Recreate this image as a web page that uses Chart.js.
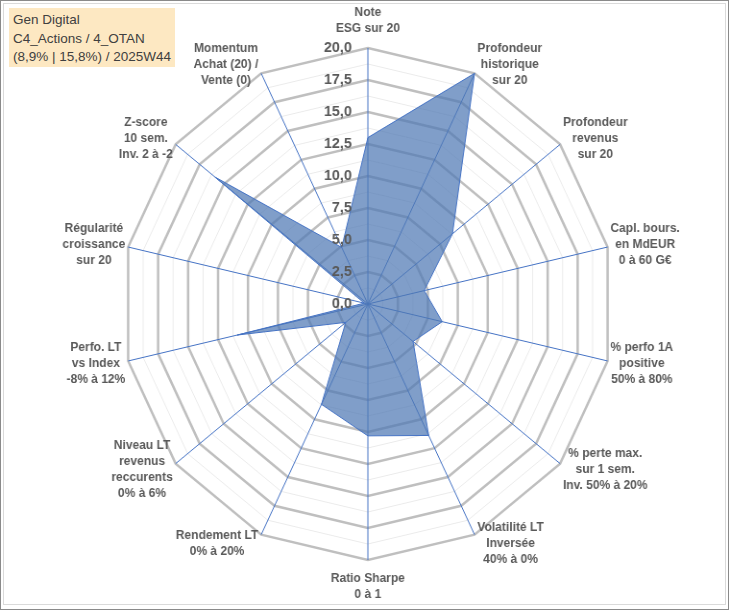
<!DOCTYPE html>
<html>
<head>
<meta charset="utf-8">
<script src="https://cdn.jsdelivr.net/npm/chart.js@4"></script>
<style>
html,body{margin:0;padding:0;background:#fff;}
#wrap{position:relative;width:729px;height:610px;overflow:hidden;background:#fff;}
#c{position:absolute;left:0;top:0;width:729px;height:610px;}
#frame{position:absolute;left:0;top:0;width:727px;height:608px;border:1px solid #8a8a8a;pointer-events:none;}
#inner{position:absolute;left:3px;top:3px;width:721px;height:600px;border:1px solid #dadada;pointer-events:none;}
#title{position:absolute;left:9px;top:8px;width:166px;height:59px;background:#fde8c2;font-family:"Liberation Sans",Arial,sans-serif;font-size:13.5px;color:#404040;line-height:18.5px;padding:3px 0 0 4px;box-sizing:border-box;white-space:nowrap;}
</style>
</head>
<body>
<div id="wrap">
  <canvas id="c" width="759" height="610" style="width:729px;height:610px;"></canvas>
  <div id="frame"></div>
  <div id="inner"></div>
  <div id="title">Gen Digital<br>C4_Actions / 4_OTAN<br>(8,9% | 15,8%) / 2025W44</div>
</div>
<script>
// ---- data ----
const categories = [
  ["Note", "ESG sur 20"],
  ["Profondeur", "historique", "sur 20"],
  ["Profondeur", "revenus", "sur 20"],
  ["Capl. bours.", "en MdEUR", "0 à 60 G€"],
  ["% perfo 1A", "positive", "50% à 80%"],
  ["% perte max.", "sur 1 sem.", "Inv. 50% à 20%"],
  ["Volatilité LT", "Inversée", "40% à 0%"],
  ["Ratio Sharpe", "0 à 1"],
  ["Rendement LT", "0% à 20%"],
  ["Niveau LT", "revenus", "reccurents", "0% à 6%"],
  ["Perfo. LT", "vs Index", "-8% à 12%"],
  ["Régularité", "croissance", "sur 20"],
  ["Z-score", "10 sem.", "Inv. 2 à -2"],
  ["Momentum", "Achat (20) /", "Vente (0)"]
];
const values = [13.0, 20.0, 8.8, 4.7, 6.2, 4.7, 11.4, 10.3, 8.7, 2.3, 10.9, 0.3, 15.9, 4.9];
const tickMin = 0, tickMax = 20, tickStep = 1.25;
const tickLabelEvery = 2;

// ---- helpers ----
const TICK_FONT = {family: '"Liberation Sans", Arial, sans-serif', size: 15, weight: 'bold'};
const meas = document.createElement('canvas').getContext('2d');
meas.font = 'bold 15px "Liberation Sans", Arial, sans-serif';
const spaceW = meas.measureText(' ').width;

function tickLabel(v) {
  const k = Math.round(v / tickStep);
  if (k % tickLabelEvery !== 0) return '';
  const t = (Math.abs(k) * tickStep).toFixed(1).replace('.', ',');
  const w = meas.measureText(t).width;
  return t + ' '.repeat(Math.max(0, Math.round((w + 33) / spaceW)));
}

const axisLabelPlugin = {
  id: 'axisLabels',
  afterDraw(chart) {
    const s = chart.scales.r;
    const c = chart.ctx;
    const R = s.drawingArea;
    const n = categories.length;
    const LH = 16;
    c.save();
    c.font = 'bold 12.5px "Liberation Sans", Arial, sans-serif';
    c.fillStyle = '#595959';
    c.textBaseline = 'middle';
    c.textAlign = 'center';
    categories.forEach((lines, i) => {
      const p = s.getPointPosition(i, R);
      const ang = 2 * Math.PI * i / n;
      const sn = Math.sin(ang), cs = Math.cos(ang);
      const bw = Math.max(...lines.map(t => c.measureText(t).width));
      const bh = lines.length * LH;
      let cx, cy;
      if (Math.abs(sn) < 1e-6) {
        cx = p.x;
        cy = cs > 0 ? p.y - 11 - bh / 2 : p.y + 11 + bh / 2;
      } else {
        cx = sn > 0 ? p.x + 3 + bw / 2 : p.x - 3 - bw / 2;
        cy = s.yCenter - (R + 10) * cs;
      }
      lines.forEach((t, k) => c.fillText(t, cx, cy - bh / 2 + LH * (k + 0.5)));
    });
    c.restore();
  }
};

new Chart(document.getElementById('c'), {
  type: 'radar',
  data: {
    labels: categories,
    datasets: [{
      data: values,
      backgroundColor: 'rgba(79,120,180,0.72)',
      borderColor: '#4472C4',
      borderWidth: 1,
      pointRadius: 0,
      pointHoverRadius: 0,
      fill: true,
      tension: 0
    }]
  },
  options: {
    responsive: false,
    devicePixelRatio: 1,
    animation: false,
    layout: {padding: {top: 41, bottom: 42, left: 120, right: 112}},
    plugins: {legend: {display: false}, tooltip: {enabled: false}},
    scales: {
      r: {
        min: tickMin - 0.001,
        max: tickMax,
        angleLines: {display: true, color: '#4472C4', lineWidth: 1},
        grid: {
          circular: false,
          color: (ctx) => (Math.round(ctx.tick ? ctx.tick.value / tickStep : ctx.index) % tickLabelEvery === 0 ? '#BFBFBF' : '#EBEBEB'),
          lineWidth: (ctx) => (Math.round(ctx.tick ? ctx.tick.value / tickStep : ctx.index) % tickLabelEvery === 0 ? 2.5 : 1)
        },
        pointLabels: {display: false},
        ticks: {
          stepSize: tickStep,
          showLabelBackdrop: false,
          backdropPadding: 0,
          color: '#595959',
          font: TICK_FONT,
          z: 1,
          callback: tickLabel
        }
      }
    }
  },
  plugins: [axisLabelPlugin]
});
</script>
</body>
</html>
